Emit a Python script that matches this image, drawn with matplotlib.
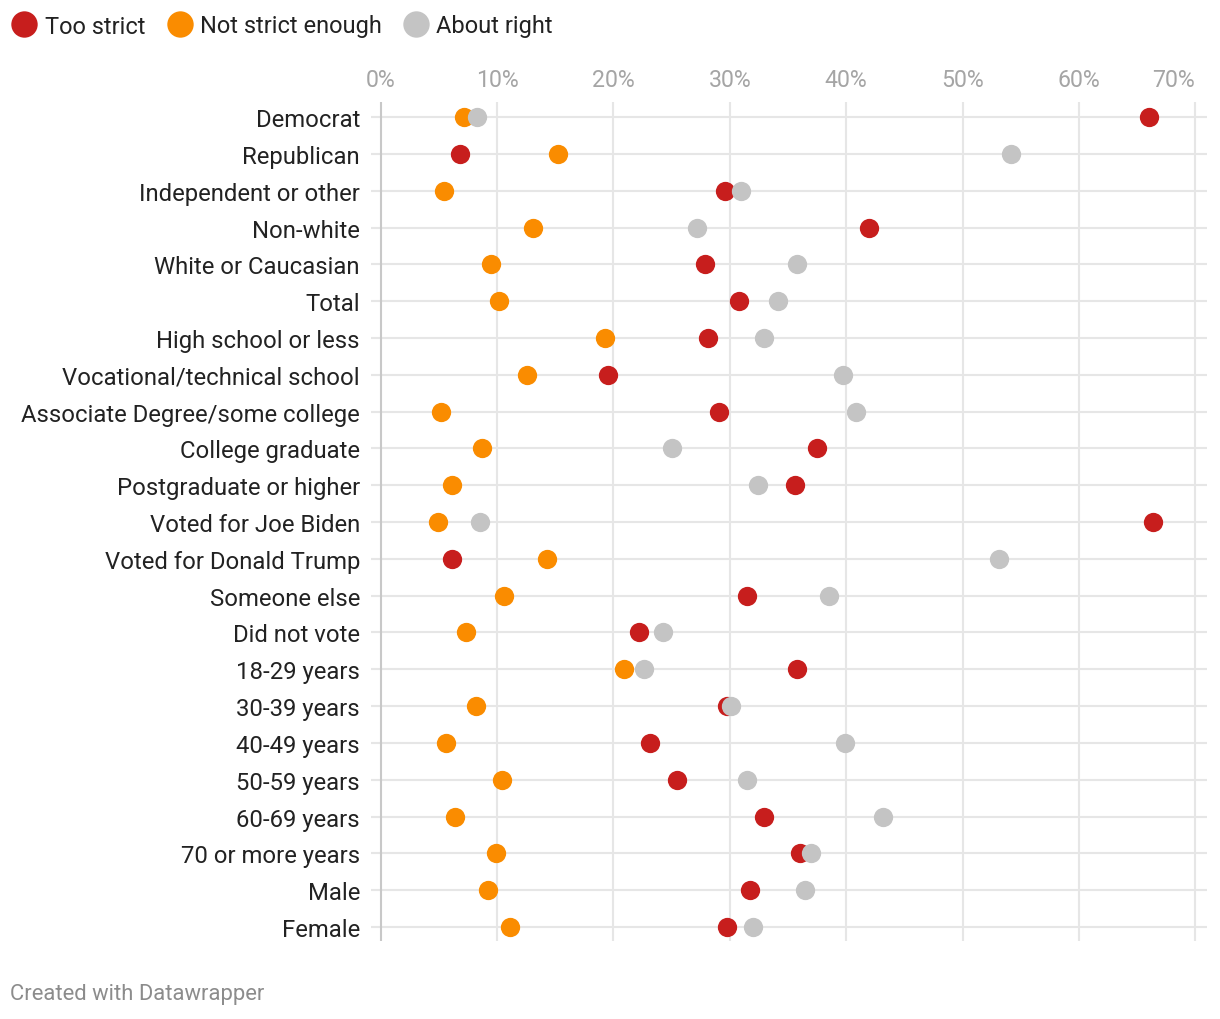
import numpy as np
import matplotlib.pyplot as plt
from matplotlib.lines import Line2D

plt.rcParams["font.family"] = ["Roboto", "DejaVu Sans"]

categories = [
    "Democrat", "Republican", "Independent or other", "Non-white",
    "White or Caucasian", "Total", "High school or less",
    "Vocational/technical school", "Associate Degree/some college",
    "College graduate", "Postgraduate or higher", "Voted for Joe Biden",
    "Voted for Donald Trump", "Someone else", "Did not vote",
    "18-29 years", "30-39 years", "40-49 years", "50-59 years",
    "60-69 years", "70 or more years", "Male", "Female",
]
too_strict = [66.0, 6.8, 29.6, 42.0, 27.9, 30.8, 28.1, 19.5, 29.1, 37.5, 35.6,
              66.4, 6.1, 31.5, 22.2, 35.8, 29.8, 23.1, 25.5, 32.9, 36.0, 31.7, 29.8]
not_strict = [7.2, 15.2, 5.4, 13.1, 9.5, 10.2, 19.3, 12.6, 5.2, 8.7, 6.1,
              4.9, 14.3, 10.6, 7.3, 20.9, 8.2, 5.6, 10.4, 6.4, 9.9, 9.2, 11.1]
about_right = [8.3, 54.2, 31.0, 27.2, 35.8, 34.1, 32.9, 39.7, 40.8, 25.0, 32.4,
               8.5, 53.1, 38.5, 24.3, 22.6, 30.1, 39.9, 31.5, 43.2, 37.0, 36.5, 32.0]
ticks = [0, 10, 20, 30, 40, 50, 60, 70]

series = [
    ("Too strict", too_strict, "#c71e1d"),
    ("Not strict enough", not_strict, "#fa8c00"),
    ("About right", about_right, "#c4c4c4"),
]

W, H = 1220, 1020
fig = plt.figure(figsize=(W / 100, H / 100), dpi=100)
ax = fig.add_axes([371 / W, (H - 942) / H, (1207 - 371) / W, (942 - 103) / H])

y = np.arange(len(categories))
for yy in y:
    ax.axhline(yy, color="#e6e6e6", lw=1.5, zorder=0)
for t in ticks:
    ax.axvline(t, color="#c8c8c8" if t == 0 else "#e6e6e6", lw=1.5, zorder=0)

for name, vals, col in series:
    ax.plot(vals, y, "o", color=col, markersize=13.9, markeredgewidth=0, zorder=3)

ax.set_xlim(-0.83, 71.0)
ax.set_ylim(22.38, -0.41)
for s in ax.spines.values():
    s.set_visible(False)

ax.set_yticks(y)
ax.set_yticklabels(categories, fontsize=17.2, color="#222222")
ax.set_xticks(ticks)
ax.set_xticklabels(["{}%".format(t) for t in ticks], fontsize=16.7, color="#a5a5a5")
ax.xaxis.tick_top()
ax.tick_params(axis="both", length=0)
ax.tick_params(axis="y", pad=8)
ax.tick_params(axis="x", pad=7.8)
# last label would run off the edge, so it hangs left of its gridline
ax.xaxis.get_major_ticks()[-1].label2.set_horizontalalignment("right")

handles = [Line2D([], [], ls="", marker="o", color=c, markersize=19, markeredgewidth=0)
           for _, _, c in series]
fig.legend(handles, [n for n, _, _ in series], loc="center left",
           bbox_to_anchor=(11.5 / W, 1 - 27 / H), ncol=3, frameon=False,
           fontsize=17, handletextpad=0.32, columnspacing=0.89,
           handlelength=1.1, borderaxespad=0, borderpad=0,
           labelcolor="#222222")

fig.text(10 / W, 1 - 995 / H, "Created with Datawrapper", fontsize=15.8,
         color="#8c8c8c", va="center", ha="left")

fig.savefig("out.png", dpi=100)
